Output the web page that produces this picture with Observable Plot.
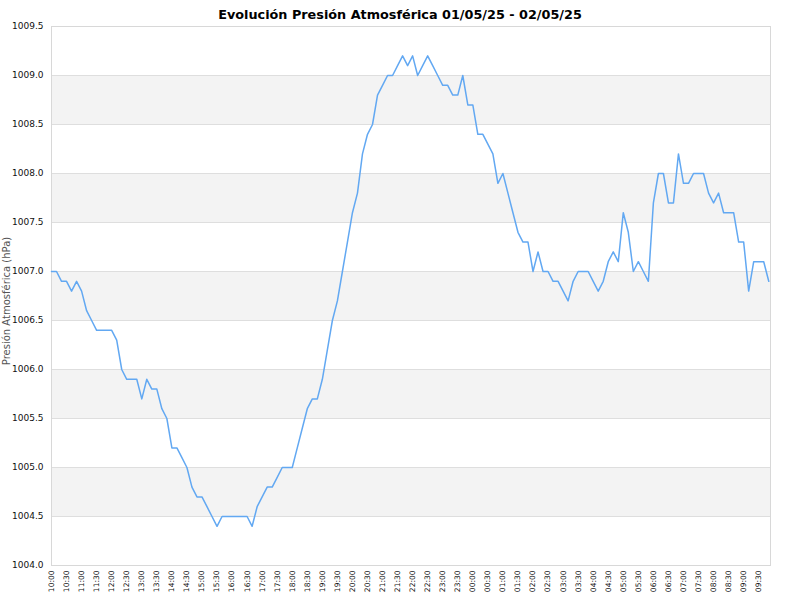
<!DOCTYPE html>
<html>
<head>
<meta charset="utf-8">
<script src="https://cdn.jsdelivr.net/npm/d3@7"></script>
<script src="https://cdn.jsdelivr.net/npm/@observablehq/plot@0.6"></script>
<style>
  html, body { margin: 0; padding: 0; background: #fff; }
</style>
</head>
<body>
<div id="chart"></div>
<script>
const chartTitle = "Evolución Presión Atmosférica 01/05/25 - 02/05/25";
const yLabel = "Presión Atmosférica (hPa)";

// x tick labels (every 30 min; one reading every 10 min)
const xTickLabels = [
  "10:00","10:30","11:00","11:30","12:00","12:30","13:00","13:30","14:00","14:30",
  "15:00","15:30","16:00","16:30","17:00","17:30","18:00","18:30","19:00","19:30",
  "20:00","20:30","21:00","21:30","22:00","22:30","23:00","23:30","00:00","00:30",
  "01:00","01:30","02:00","02:30","03:00","03:30","04:00","04:30","05:00","05:30",
  "06:00","06:30","07:00","07:30","08:00","08:30","09:00","09:30"
];

// y ticks (hPa)
const yTicks = [1004.0, 1004.5, 1005.0, 1005.5, 1006.0, 1006.5, 1007.0, 1007.5, 1008.0, 1008.5, 1009.0, 1009.5];

// pressure readings, every 10 minutes from 10:00
const pressure = [
  1007.0, 1007.0, 1006.9, 1006.9, 1006.8, 1006.9, 1006.8, 1006.6, 1006.5, 1006.4,
  1006.4, 1006.4, 1006.4, 1006.3, 1006.0, 1005.9, 1005.9, 1005.9, 1005.7, 1005.9,
  1005.8, 1005.8, 1005.6, 1005.5, 1005.2, 1005.2, 1005.1, 1005.0, 1004.8, 1004.7,
  1004.7, 1004.6, 1004.5, 1004.4, 1004.5, 1004.5, 1004.5, 1004.5, 1004.5, 1004.5,
  1004.4, 1004.6, 1004.7, 1004.8, 1004.8, 1004.9, 1005.0, 1005.0, 1005.0, 1005.2,
  1005.4, 1005.6, 1005.7, 1005.7, 1005.9, 1006.2, 1006.5, 1006.7, 1007.0, 1007.3,
  1007.6, 1007.8, 1008.2, 1008.4, 1008.5, 1008.8, 1008.9, 1009.0, 1009.0, 1009.1,
  1009.2, 1009.1, 1009.2, 1009.0, 1009.1, 1009.2, 1009.1, 1009.0, 1008.9, 1008.9,
  1008.8, 1008.8, 1009.0, 1008.7, 1008.7, 1008.4, 1008.4, 1008.3, 1008.2, 1007.9,
  1008.0, 1007.8, 1007.6, 1007.4, 1007.3, 1007.3, 1007.0, 1007.2, 1007.0, 1007.0,
  1006.9, 1006.9, 1006.8, 1006.7, 1006.9, 1007.0, 1007.0, 1007.0, 1006.9, 1006.8,
  1006.9, 1007.1, 1007.2, 1007.1, 1007.6, 1007.4, 1007.0, 1007.1, 1007.0, 1006.9,
  1007.7, 1008.0, 1008.0, 1007.7, 1007.7, 1008.2, 1007.9, 1007.9, 1008.0, 1008.0,
  1008.0, 1007.8, 1007.7, 1007.8, 1007.6, 1007.6, 1007.6, 1007.3, 1007.3, 1006.8,
  1007.1, 1007.1, 1007.1, 1006.9
];

const data = pressure.map((p, i) => ({i, p}));
const xTickIdx = xTickLabels.map((_, k) => k * 3);
const xDomain = [0, 143.35];

// alternating shaded bands between y ticks
const bands = [];
for (let k = 0; k < yTicks.length - 1; k++) {
  if (k % 2 === 1) bands.push({lo: yTicks[k], hi: yTicks[k + 1]});
}

const chart = Plot.plot({
  width: 800,
  height: 600,
  marginTop: 26,
  marginBottom: 35,
  marginLeft: 51,
  marginRight: 30,
  style: {fontFamily: "'DejaVu Sans', Verdana, sans-serif", background: "#fff", color: "#111"},
  x: {domain: xDomain, axis: null},
  y: {domain: [yTicks[0], yTicks[yTicks.length - 1]], axis: null},
  marks: [
    Plot.rect(bands, {x1: () => xDomain[0], x2: () => xDomain[1], y1: "lo", y2: "hi", fill: "#f3f3f3"}),
    Plot.ruleY(yTicks, {stroke: "#dedede", strokeWidth: 1}),
    Plot.frame({stroke: "#d8d8d8"}),
    Plot.axisY({ticks: yTicks, tickFormat: d => d.toFixed(1), tickSize: 0, tickPadding: 8, fontSize: 9, label: null}),
    Plot.axisX({ticks: xTickIdx, tickFormat: d => xTickLabels[Math.round(d / 3)], tickRotate: -90, tickSize: 0, tickPadding: 5, fontSize: 7.5, label: null}),
    Plot.line(data, {x: "i", y: "p", stroke: "#62a8f2", strokeWidth: 1.5}),
    Plot.text([chartTitle], {frameAnchor: "top", lineAnchor: "middle", dy: -12, dx: -11, fontWeight: "bold", fontSize: 12.8, fill: "#000"}),
    Plot.text([yLabel], {frameAnchor: "left", textAnchor: "middle", lineAnchor: "middle", rotate: -90, dx: -45, dy: 5, fontSize: 10, fill: "#555"})
  ]
});

document.getElementById("chart").appendChild(chart);
</script>
</body>
</html>
